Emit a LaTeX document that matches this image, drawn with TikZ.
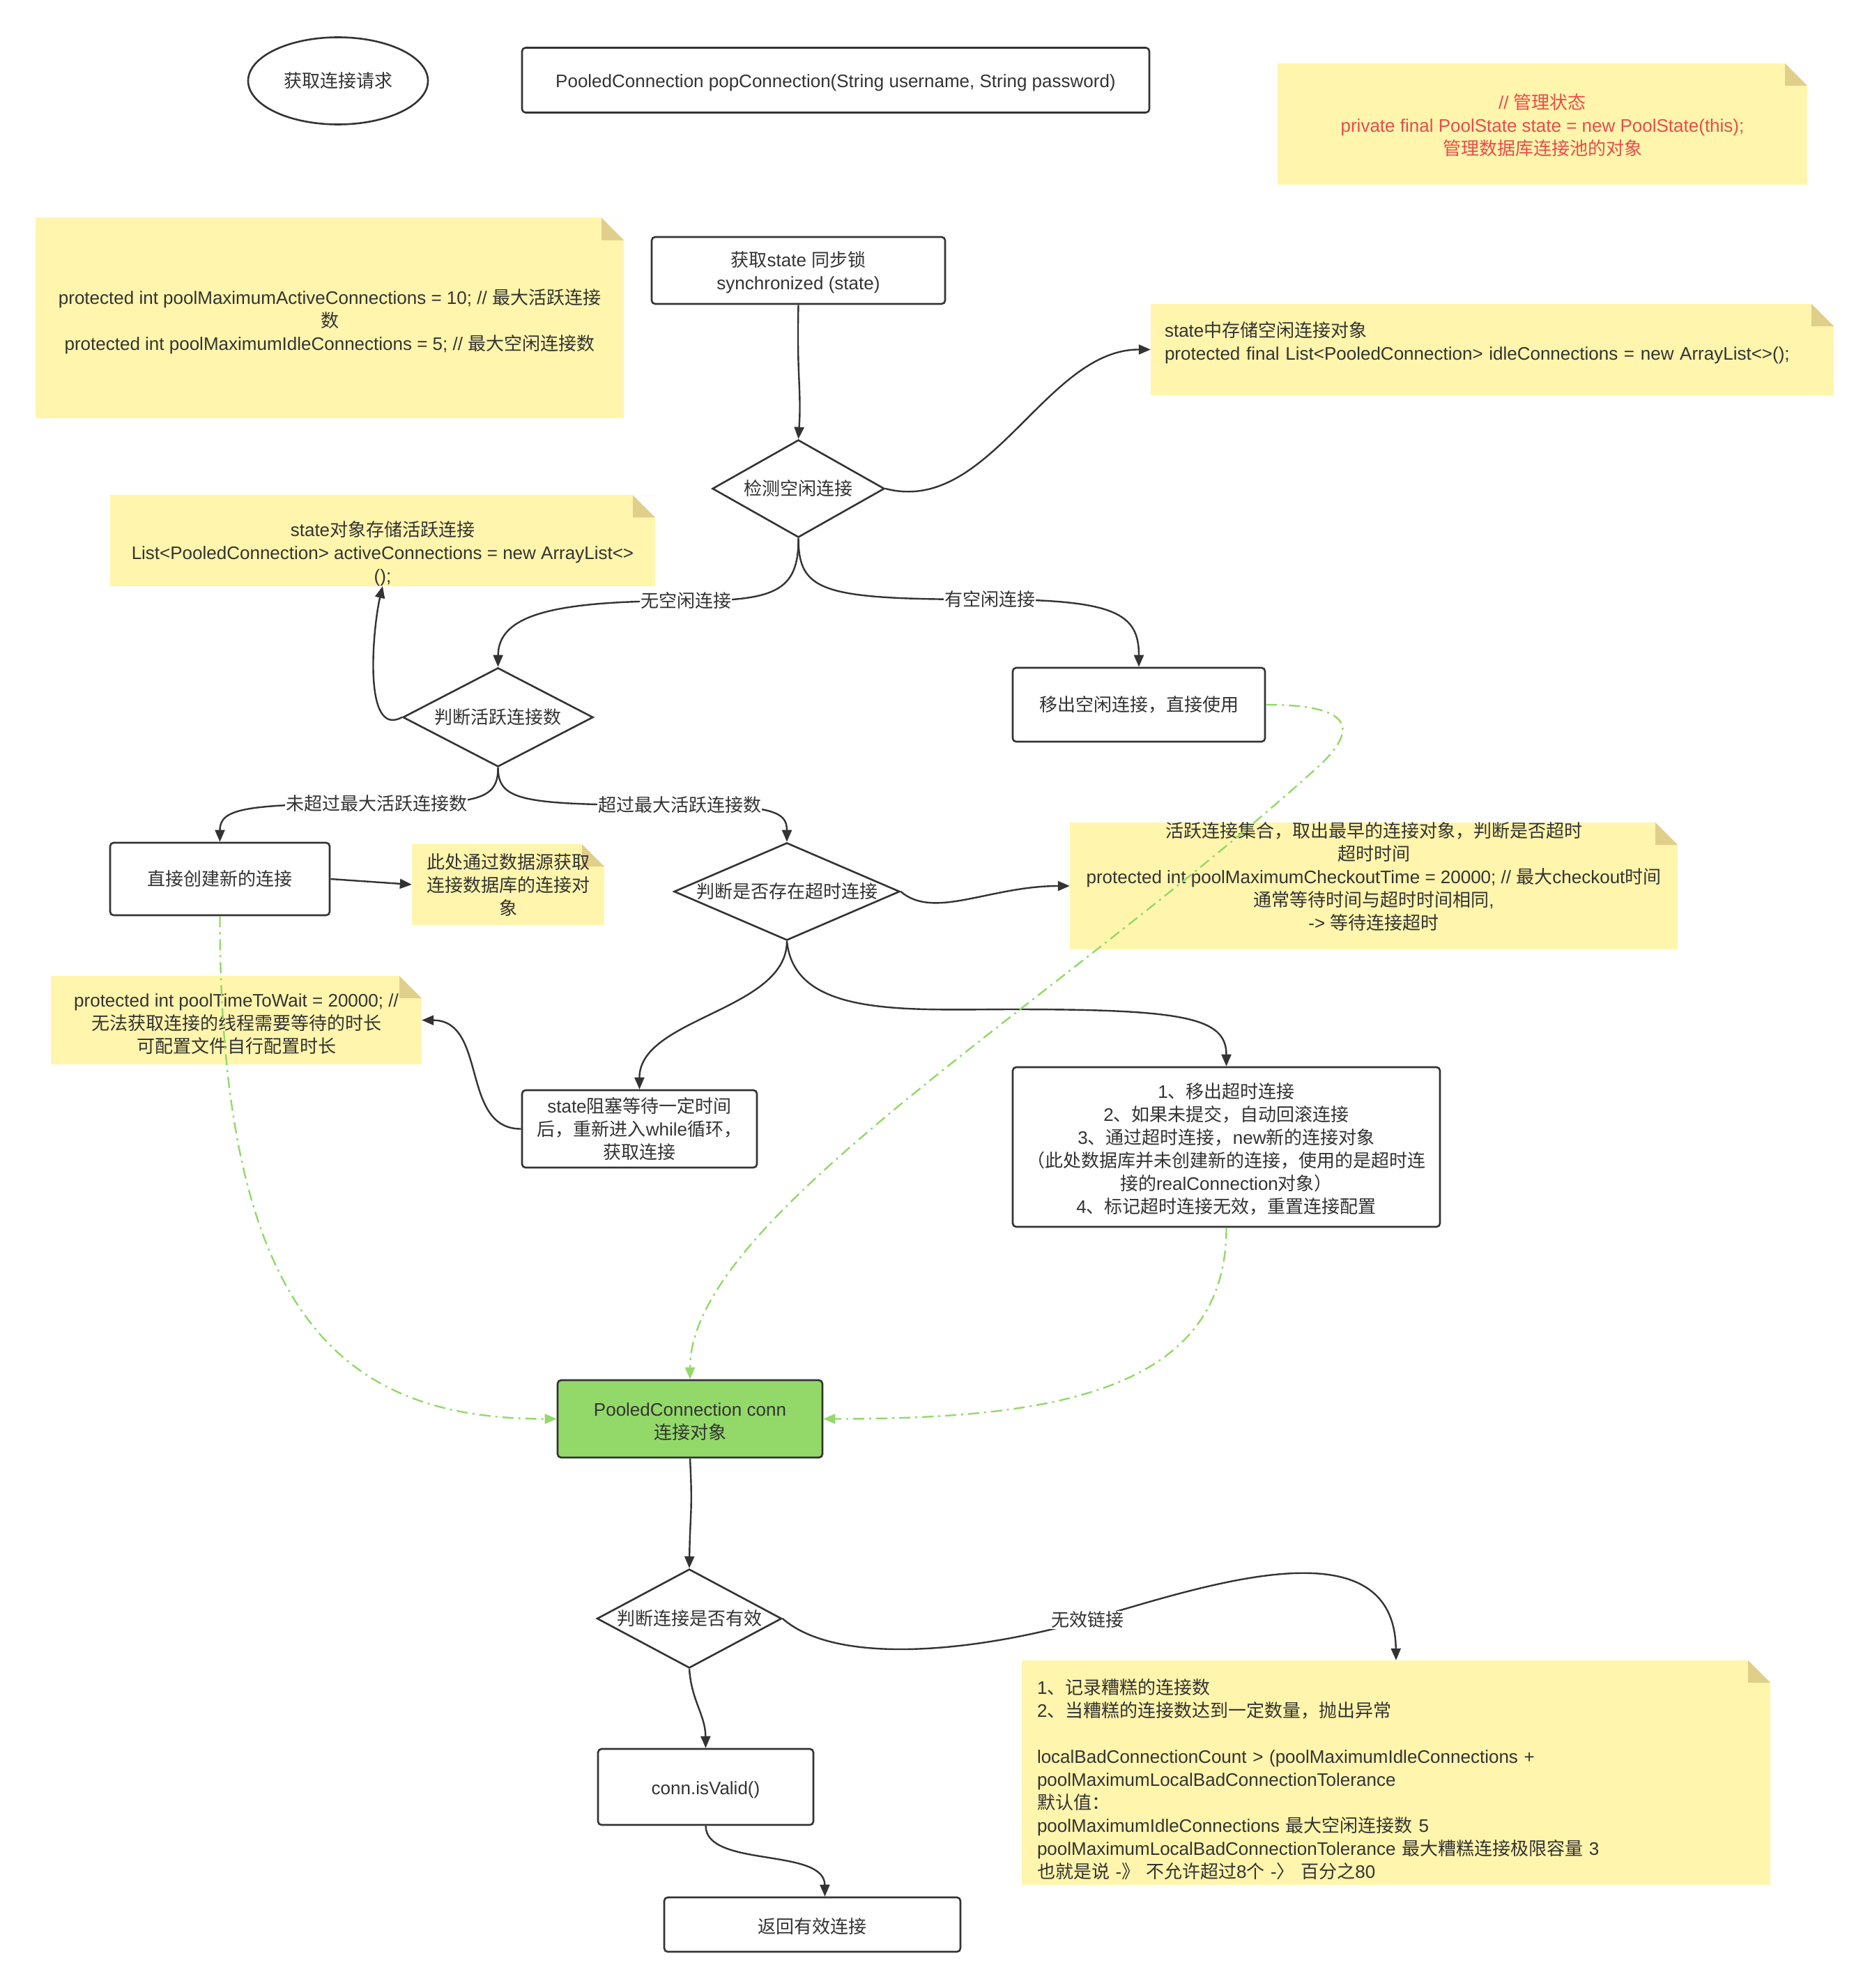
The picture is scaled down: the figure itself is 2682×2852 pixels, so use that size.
\documentclass[tikz,border=0pt]{standalone}
\usepackage{fontspec}
\setmainfont{Liberation Sans}
\newfontfamily\cjkfont{Noto Sans CJK SC}
\newfontfamily\latfont{Liberation Sans}
\usetikzlibrary{shapes.geometric,arrows.meta}

\definecolor{notefill}{HTML}{FFF5AD}
\definecolor{notefold}{HTML}{E0CF8A}
\definecolor{lineclr}{HTML}{333333}
\definecolor{grn}{HTML}{93D96A}
\definecolor{redtxt}{HTML}{E84C4C}

\XeTeXinterchartokenstate=1
\newXeTeXintercharclass\cjkclass
\newcount\cjkcnt
\def\setcjkrange#1#2{\cjkcnt=#1\relax
  \loop\XeTeXcharclass\cjkcnt=\cjkclass\relax
  \ifnum\cjkcnt<#2\relax\advance\cjkcnt by 1\relax\repeat}
\setcjkrange{"3000}{"303F}
\setcjkrange{"4E00}{"9FFF}
\setcjkrange{"FF00}{"FFEF}
\XeTeXinterchartoks 0 \cjkclass={\cjkfont}
\XeTeXinterchartoks 4095 \cjkclass={\cjkfont}
\XeTeXinterchartoks \cjkclass 0={\latfont}
\XeTeXinterchartoks \cjkclass 4095={\latfont}

\begin{document}
\begin{tikzpicture}[x=1pt,y=-1pt,
    every node/.style={font=\fontsize{26}{33}\selectfont, text=lineclr},
    box/.style={draw=lineclr, line width=2.6pt, rounded corners=5pt, fill=white, align=center, inner sep=0pt},
    dec/.style={diamond, draw=lineclr, line width=2.6pt, fill=white, inner sep=0pt},
    note/.style={fill=notefill, align=center, inner sep=0pt,
      path picture={
        \fill[white] ([xshift=-32pt]path picture bounding box.north east) -- (path picture bounding box.north east)
          -- ([yshift=-32pt]path picture bounding box.north east) -- cycle;
        \fill[notefold] ([xshift=-32pt]path picture bounding box.north east) -- ([xshift=-32pt,yshift=-32pt]path picture bounding box.north east)
          -- ([yshift=-32pt]path picture bounding box.north east) -- cycle;
      }},
    lbl/.style={fill=white, inner sep=1pt},
    arr/.style={draw=lineclr, line width=2.4pt, -{Triangle[length=17pt,width=14pt]}},
    garr/.style={draw=grn, line width=2.4pt, dash pattern=on 16pt off 7pt on 3pt off 7pt, -{Triangle[length=17pt,width=14pt]}}]

    \fill[white] (0,0) rectangle (2682,2852);
    \useasboundingbox (0,0) rectangle (2682,2852);

    \node[draw=lineclr, line width=2.6pt, ellipse, minimum width=258pt, minimum height=125pt, inner sep=0pt] (req) at (485,116) {获取连接请求};
    \node[box, minimum width=900pt, minimum height=93pt] (sig) at (1199,115) {\rule{0pt}{27pt}PooledConnection popConnection(String username, String password)};
    \node[note, minimum width=760pt, minimum height=174pt, text=redtxt] (nState) at (2213,178) {\rule{0pt}{26pt}// 管理状态\\private final PoolState state = new PoolState(this);\\管理数据库连接池的对象};
    \node[note, minimum width=844pt, minimum height=287pt] (nMax) at (473,456) {\rule{0pt}{32pt}protected int poolMaximumActiveConnections = 10; // 最大活跃连接\\数\\protected int poolMaximumIdleConnections = 5; // 最大空闲连接数};
    \node[box, minimum width=421pt, minimum height=96pt] (sync) at (1145.5,388) {\rule{0pt}{27pt}获取state 同步锁\\synchronized (state)};
    \node[note, minimum width=980pt, minimum height=131pt, text width=940pt, align=left] (nIdle) at (2141,501.5) {state中存储空闲连接对象\\protected final List<PooledConnection> idleConnections = new ArrayList<>();\rule[-26pt]{0pt}{0pt}};
    \node[dec, minimum width=247pt, minimum height=140pt, aspect=1.76] (chk) at (1145.5,701) {检测空闲连接};
    \node[note, minimum width=782pt, minimum height=121pt] (nActive) at (549,775.5) {\rule{0pt}{59pt}state对象存储活跃连接\\List<PooledConnection> activeConnections = new ArrayList<>\\();};
    \node[dec, minimum width=273pt, minimum height=142pt, aspect=1.92] (act) at (714.5,1029) {判断活跃连接数};
    \node[box, minimum width=362pt, minimum height=106pt] (rmIdle) at (1634,1011) {移出空闲连接，直接使用};
    \node[box, minimum width=315pt, minimum height=104pt] (newConn) at (315.5,1261) {直接创建新的连接};
    \node[note, minimum width=276pt, minimum height=116pt] (nDs) at (729,1269) {此处通过数据源获取\\连接数据库的连接对\\象};
    \node[dec, minimum width=324pt, minimum height=140pt, aspect=2.31] (tmo) at (1129,1279) {判断是否存在超时连接};
    \node[note, minimum width=872pt, minimum height=182pt] (nChk) at (1971,1271) {活跃连接集合，取出最早的连接对象，判断是否超时\\超时时间\\protected int poolMaximumCheckoutTime = 20000; // 最大checkout时间\\通常等待时间与超时时间相同,\\-> 等待连接超时\rule[-28pt]{0pt}{0pt}};
    \node[note, minimum width=532pt, minimum height=127pt] (nWait) at (339,1463.5) {\rule{0pt}{31pt}protected int poolTimeToWait = 20000; //\\无法获取连接的线程需要等待的时长\\可配置文件自行配置时长};
    \node[box, minimum width=337pt, minimum height=111pt] (block) at (917.5,1619.5) {state阻塞等待一定时间\\后，重新进入while循环，\\获取连接};
    \node[box, minimum width=613pt, minimum height=229pt] (rmTmo) at (1759.5,1645.5) {\rule{0pt}{27pt}1、移出超时连接\\2、如果未提交，自动回滚连接\\3、通过超时连接，new新的连接对象\\（此处数据库并未创建新的连接，使用的是超时连\\接的realConnection对象）\\4、标记超时连接无效，重置连接配置};
    \node[box, fill=grn, minimum width=380pt, minimum height=111pt] (conn) at (990,2035.5) {\rule{0pt}{27pt}PooledConnection conn\\连接对象};
    \node[dec, minimum width=265pt, minimum height=142pt, aspect=1.87] (valid) at (989,2322) {判断连接是否有效};
    \node[note, minimum width=1074pt, minimum height=322pt, text width=1030pt, align=left] (nBad) at (2003,2543) {\rule{0pt}{41pt}1、记录糟糕的连接数\\2、当糟糕的连接数达到一定数量，抛出异常\\[33pt]localBadConnectionCount > (poolMaximumIdleConnections +\\poolMaximumLocalBadConnectionTolerance\\默认值：\\poolMaximumIdleConnections 最大空闲连接数 5\\poolMaximumLocalBadConnectionTolerance 最大糟糕连接极限容量 3\\也就是说 -》 不允许超过8个 -〉 百分之80};
    \node[box, minimum width=309pt, minimum height=109pt] (isValid) at (1012.5,2563.5) {\rule{0pt}{27pt}conn.isValid()};
    \node[box, minimum width=425pt, minimum height=78pt] (ret) at (1165.5,2761) {\rule{0pt}{27pt}返回有效连接};

    \draw[arr] (sync.south) .. controls (1143,540) and (1150,560) .. (chk.north);
    \draw[arr] (chk.east) .. controls (1420,740) and (1500,501) .. (nIdle.west);
    \draw[arr] (chk.south) .. controls (1146,850) and (1110,862) .. (984,862) node[lbl] {无空闲连接} .. controls (800,862) and (715,880) .. (act.north);
    \draw[arr] (chk.south) .. controls (1146,850) and (1180,860) .. (1420,860) node[lbl] {有空闲连接} .. controls (1600,860) and (1634,880) .. (rmIdle.north);
    \draw[arr] (act.west) .. controls (520,1060) and (535,900) .. (nActive.south);
    \draw[arr] (act.south) .. controls (715,1150) and (680,1153) .. (540,1153) node[lbl] {未超过最大活跃连接数} .. controls (350,1153) and (315.5,1160) .. (newConn.north);
    \draw[arr] (act.south) .. controls (715,1150) and (750,1155) .. (975,1155) node[lbl] {超过最大活跃连接数} .. controls (1110,1155) and (1129,1165) .. (tmo.north);
    \draw[arr] (newConn.east) -- (nDs.west);
    \draw[arr] (tmo.east) .. controls (1340,1320) and (1420,1271) .. (nChk.west);
    \draw[arr] (tmo.south) .. controls (1129,1450) and (917,1460) .. (block.north);
    \draw[arr] (tmo.south) .. controls (1140,1460) and (1300,1448) .. (1455,1448) .. controls (1700,1448) and (1759.5,1460) .. (rmTmo.north);
    \draw[arr] (block.west) .. controls (660,1620) and (700,1464) .. (nWait.east);
    \draw[arr] (conn.south) .. controls (994,2170) and (990,2170) .. (valid.north);
    \draw[arr] (valid.east) .. controls (1200,2390) and (1400,2370) .. (1560,2324) node[lbl] {无效链接} .. controls (1720,2278) and (2000,2180) .. (nBad.north);
    \draw[arr] (valid.south) .. controls (992,2440) and (1012,2460) .. (isValid.north);
    \draw[arr] (isValid.south) .. controls (1013,2680) and (1183,2650) .. ([xshift=18pt]ret.north);

    \draw[garr] (newConn.south) .. controls (315.5,1900) and (500,2035.5) .. (conn.west);
    \draw[garr] (rmIdle.east) .. controls (1950,1011) and (1950,1050) .. (1880,1110) .. controls (1500,1450) and (990,1750) .. (conn.north);
    \draw[garr] (rmTmo.south) .. controls (1760,2000) and (1500,2035.5) .. (conn.east);
\end{tikzpicture}
\end{document}
